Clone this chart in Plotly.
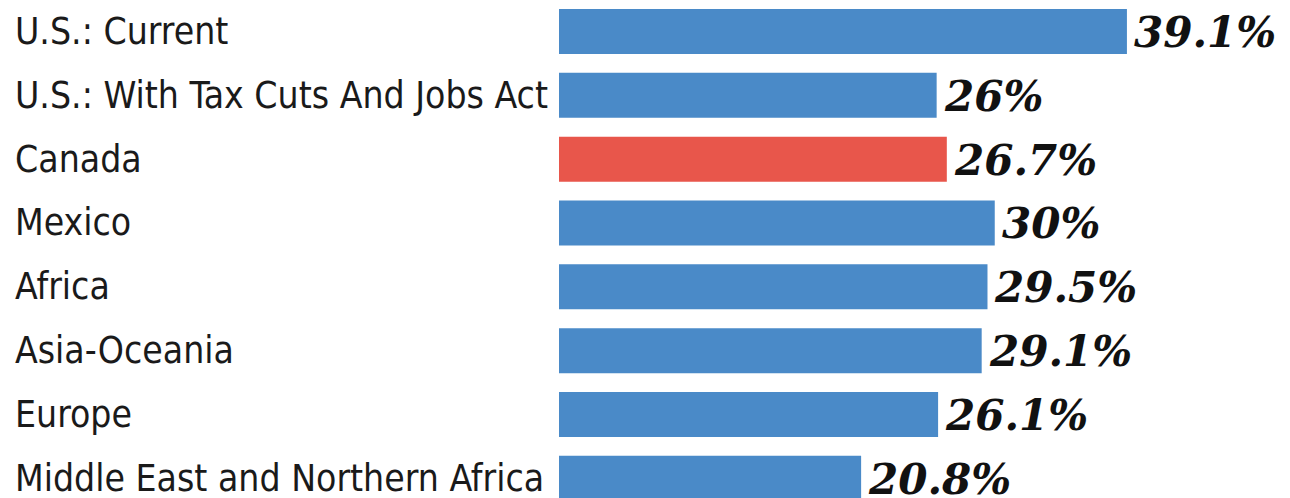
import plotly.graph_objects as go

# Corporate tax rates by jurisdiction
categories = [
    "U.S.: Current",
    "U.S.: With Tax Cuts And Jobs Act",
    "Canada",
    "Mexico",
    "Africa",
    "Asia-Oceania",
    "Europe",
    "Middle East and Northern Africa",
]
rates = [39.1, 26, 26.7, 30, 29.5, 29.1, 26.1, 20.8]
highlight = "Canada"

BLUE = "#4a8ac8"
RED = "#e8564b"
colors = [RED if c == highlight else BLUE for c in categories]
labels = [f"{v:g}%" for v in rates]

W, H = 1290, 498
LEFT = 559
px_per_unit = 14.525
row_px = 63.83
first_center = 31.5

x_max = (W - LEFT) / px_per_unit
y_top = -first_center / row_px
y_bottom = y_top + H / row_px

fig = go.Figure(
    go.Bar(
        x=rates,
        y=list(range(len(categories))),
        orientation="h",
        width=45 / row_px,
        marker=dict(color=colors, line=dict(width=0)),
        hoverinfo="skip",
    )
)

# value labels just past the end of each bar
for i, (v, lab) in enumerate(zip(rates, labels)):
    fig.add_annotation(
        x=v, xref="x", y=i, yref="y",
        text=lab, showarrow=False,
        xanchor="left", yanchor="middle", xshift=5, yshift=-1,
        font=dict(family="DejaVu Serif", size=42, color="#111111",
                  style="italic", weight="bold"),
    )

# category names, left-aligned in the margin
for i, name in enumerate(categories):
    fig.add_annotation(
        x=-(LEFT - 13) / (W - LEFT), xref="paper",
        y=i, yref="y",
        text=name, showarrow=False,
        xanchor="left", yanchor="middle",
        font=dict(family="DejaVu Sans Condensed, Roboto", size=37, color="#1a1a1a"),
    )

fig.update_layout(
    width=W, height=H,
    margin=dict(l=LEFT, r=0, t=0, b=0),
    paper_bgcolor="white", plot_bgcolor="white",
    showlegend=False,
    xaxis=dict(range=[0, x_max], visible=False, fixedrange=True),
    yaxis=dict(range=[y_bottom, y_top], visible=False, fixedrange=True),
)

fig.write_html("out.html")
